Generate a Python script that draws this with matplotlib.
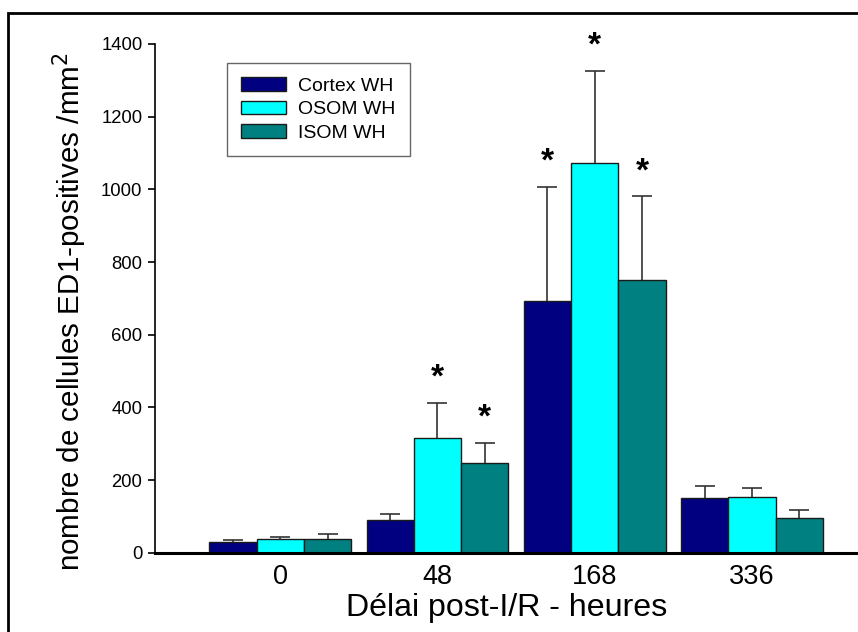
import matplotlib
matplotlib.use("Agg")
import matplotlib.pyplot as plt
import numpy as np
from matplotlib.patches import Rectangle

plt.rcParams['font.family'] = ['Liberation Sans', 'DejaVu Sans']

groups = ['0', '48', '168', '336']
series = ['Cortex WH', 'OSOM WH', 'ISOM WH']
colors = ['#000080', '#00FFFF', '#008080']
cortex = [30, 91, 693, 150]
osom = [38, 316, 1072, 152]
isom = [38, 246, 750, 95]
cortex_err = [4, 15, 314, 33]
osom_err = [6, 97, 254, 27]
isom_err = [13, 57, 231, 23]
cortex_sig = [False, False, True, False]
osom_sig = [False, True, True, False]
isom_sig = [False, True, True, False]

values = [cortex, osom, isom]
errs = [cortex_err, osom_err, isom_err]
sigs = [cortex_sig, osom_sig, isom_sig]

W, H = 858, 632
fig = plt.figure(figsize=(W / 100, H / 100), dpi=100)
ax = fig.add_axes([155 / W, 1 - 552.7 / H, (858 - 155) / W, (552.7 - 44) / H])

x = np.arange(len(groups))
bw = 0.301
for i, (vals, e, sg, c, name) in enumerate(zip(values, errs, sigs, colors, series)):
    pos = x + (i - 1) * bw
    ax.bar(pos, vals, width=bw, color=c, edgecolor='#1a1a1a', linewidth=1.0,
           label=name, zorder=2)
    eb = ax.errorbar(pos, vals, yerr=[np.zeros(len(vals)), e], fmt='none',
                     ecolor='#333333', elinewidth=1.2, capsize=7, capthick=1.2, zorder=1)
    caps = eb[1]
    if len(caps) == 2:
        caps[0].set_visible(False)
    for p, v, ee, s in zip(pos, vals, e, sg):
        if s:
            ax.annotate('*', xy=(p, v + ee), xytext=(0, 11.5), textcoords='offset points',
                        ha='center', va='baseline', fontsize=24, fontweight='bold')

ax.set_ylim(0, 1400)
ax.set_xlim(-0.797, 3.675)
ax.set_yticks(range(0, 1401, 200))
ax.set_xticks(x)
ax.set_xticklabels(groups, fontsize=19.5)
ax.tick_params(axis='x', length=0, pad=8)
ax.tick_params(axis='y', direction='out', length=5, width=1.2, labelsize=13.3, pad=4)
for s in ['top', 'right']:
    ax.spines[s].set_visible(False)
ax.spines['left'].set_linewidth(1.2)
ax.spines['bottom'].set_linewidth(2.2)

ax.set_xlabel('Délai post-I/R - heures', fontsize=23.1, labelpad=2)
fig.text(70 / W, 1 - 312 / H, 'nombre de cellules ED1-positives /mm$^2$', fontsize=21.3,
         rotation=90, ha='center', va='center')

leg = ax.legend(loc='upper left', bbox_to_anchor=(226.7 / W, 1 - 62.7 / H),
                bbox_transform=fig.transFigure, fontsize=14, frameon=True,
                fancybox=False, edgecolor='#404040', handlelength=2.3,
                handleheight=0.7, handletextpad=0.6, borderpad=0.75,
                labelspacing=0.3, borderaxespad=0)
leg.get_frame().set_linewidth(1.0)

fig.patches.append(Rectangle((8 / W, -0.1), 1.2, 1 - 13 / H + 0.1, transform=fig.transFigure,
                             fill=False, edgecolor='black', linewidth=2.0, clip_on=False))

fig.savefig('out.png', dpi=100)
